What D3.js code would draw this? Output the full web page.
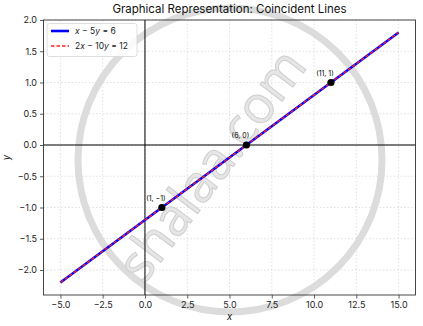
<!DOCTYPE html>
<html><head><meta charset="utf-8">
<script src="https://cdn.jsdelivr.net/npm/d3@7"></script>
<style>body{margin:0;background:#fff}svg{display:block;font-family:"Inter","Open Sans",sans-serif}</style>
</head><body><svg id="c" width="423" height="326"></svg>
<script>
const lineX = [-5, 15];
const line1Y = [-2.2, 1.8];   // x - 5y = 6
const line2Y = [-2.2, 1.8];   // 2x - 10y = 12
const pointsX = [1, 6, 11];
const pointsY = [-1, 0, 1];
const pointLabels = ["(1, \u22121)", "(6, 0)", "(11, 1)"];
const xTicks = [-5, -2.5, 0, 2.5, 5, 7.5, 10, 12.5, 15];
const yTicks = [-2, -1.5, -1, -0.5, 0, 0.5, 1, 1.5, 2];

const svg = d3.select("#c");
const L = 43.5, R = 415.5, T = 20, B = 295;
const x = d3.scaleLinear().domain([-6, 16]).range([L, R]);
const y = d3.scaleLinear().domain([-2.4, 2.0]).range([B, T]);
const fmt = d => d3.format(".1f")(d).replace("-", "\u2212");

// grid
const g = svg.append("g");
g.selectAll(".gx").data(xTicks).join("line")
  .attr("x1", d => x(d)).attr("x2", d => x(d)).attr("y1", T).attr("y2", B)
  .attr("stroke", "#ccc").attr("stroke-width", 0.6).attr("stroke-dasharray", "1.5,2");
g.selectAll(".gy").data(yTicks).join("line")
  .attr("y1", d => y(d)).attr("y2", d => y(d)).attr("x1", L).attr("x2", R)
  .attr("stroke", "#ccc").attr("stroke-width", 0.6).attr("stroke-dasharray", "1.5,2");

// watermark (behind the data)
const wm = svg.append("g").attr("pointer-events", "none");
wm.append("circle").attr("cx", 230).attr("cy", 160).attr("r", 152).attr("fill", "none")
  .attr("stroke", "#dcdcdc").attr("stroke-width", 7);
wm.append("text").attr("transform", "translate(226,176) rotate(-53)").attr("text-anchor", "middle")
  .attr("font-size", 52).attr("fill", "#e6e6e6").attr("stroke", "#cfcfcf").attr("stroke-width", 1)
  .attr("font-family", "Open Sans, sans-serif").text("shalaa.com");

// zero axes
svg.append("line").attr("x1", x(0)).attr("x2", x(0)).attr("y1", T).attr("y2", B).attr("stroke", "#000").attr("stroke-width", 1);
svg.append("line").attr("y1", y(0)).attr("y2", y(0)).attr("x1", L).attr("x2", R).attr("stroke", "#000").attr("stroke-width", 1);

// lines
const pts1 = lineX.map((v, i) => [v, line1Y[i]]);
const pts2 = lineX.map((v, i) => [v, line2Y[i]]);
const lg = d3.line().x(d => x(d[0])).y(d => y(d[1]));
svg.append("path").attr("d", lg(pts1)).attr("stroke", "#0000ff").attr("stroke-width", 2.6).attr("fill", "none");
svg.append("path").attr("d", lg(pts2)).attr("stroke", "#ff2020").attr("stroke-width", 1.3).attr("stroke-dasharray", "3.5,2").attr("fill", "none");

// points
svg.selectAll(".pt").data(pointsX).join("circle")
  .attr("cx", d => x(d)).attr("cy", (d, i) => y(pointsY[i])).attr("r", 3.6).attr("fill", "#000");
svg.selectAll(".pl").data(pointsX).join("text")
  .attr("x", d => x(d) - 6).attr("y", (d, i) => y(pointsY[i]) - 7)
  .attr("text-anchor", "middle").attr("font-size", 7).attr("fill", "#000")
  .text((d, i) => pointLabels[i]);

// frame
svg.append("rect").attr("x", L).attr("y", T).attr("width", R - L).attr("height", B - T)
  .attr("fill", "none").attr("stroke", "#333").attr("stroke-width", 0.9);

// axes
const ax = svg.append("g").attr("transform", `translate(0,${B})`)
  .call(d3.axisBottom(x).tickValues(xTicks).tickFormat(fmt).tickSize(3.5).tickPadding(3));
const ay = svg.append("g").attr("transform", `translate(${L},0)`)
  .call(d3.axisLeft(y).tickValues(yTicks).tickFormat(fmt).tickSize(3.5).tickPadding(3));
[ax, ay].forEach(a => {
  a.select(".domain").remove();
  a.selectAll("line").attr("stroke", "#333").attr("stroke-width", 0.8);
  a.selectAll("text").attr("font-size", 9).attr("fill", "#222").attr("font-family", "Inter, sans-serif");
});

// labels
svg.append("text").attr("x", (L + R) / 2).attr("y", 13).attr("text-anchor", "middle")
  .attr("font-size", 11.5).attr("fill", "#111").text("Graphical Representation: Coincident Lines");
svg.append("text").attr("x", (L + R) / 2).attr("y", 320).attr("text-anchor", "middle")
  .attr("font-size", 9.5).attr("font-style", "italic").attr("fill", "#111").text("x");
svg.append("text").attr("transform", `translate(10,${(T + B) / 2}) rotate(-90)`).attr("text-anchor", "middle")
  .attr("font-size", 9.5).attr("font-style", "italic").attr("fill", "#111").text("y");

// legend
const leg = svg.append("g");
leg.append("rect").attr("x", 47).attr("y", 23.5).attr("width", 90).attr("height", 33).attr("rx", 2.5)
  .attr("fill", "#fff").attr("fill-opacity", 0.85).attr("stroke", "#d5d5d5").attr("stroke-width", 0.8);
leg.append("line").attr("x1", 51).attr("x2", 69).attr("y1", 31).attr("y2", 31).attr("stroke", "#0000ff").attr("stroke-width", 2.6);
leg.append("line").attr("x1", 51).attr("x2", 69).attr("y1", 46).attr("y2", 46).attr("stroke", "#ff2020").attr("stroke-width", 1.3).attr("stroke-dasharray", "3.5,2");
const t1 = leg.append("text").attr("x", 75).attr("y", 34).attr("font-size", 8.5).attr("fill", "#222");
t1.append("tspan").attr("font-style", "italic").text("x");
t1.append("tspan").text(" \u2212 5");
t1.append("tspan").attr("font-style", "italic").text("y");
t1.append("tspan").text(" = 6");
const t2 = leg.append("text").attr("x", 75).attr("y", 49).attr("font-size", 8.5).attr("fill", "#222");
t2.append("tspan").text("2");
t2.append("tspan").attr("font-style", "italic").text("x");
t2.append("tspan").text(" \u2212 10");
t2.append("tspan").attr("font-style", "italic").text("y");
t2.append("tspan").text(" = 12");
</script></body></html>
